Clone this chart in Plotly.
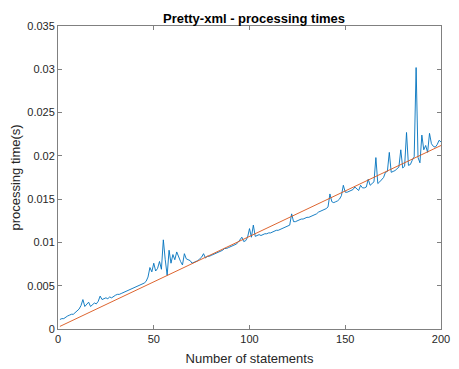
import plotly.graph_objects as go

statements = list(range(1, 201))
times = [
    0.0011, 0.0012, 0.0012, 0.0014, 0.0015, 0.0016, 0.0017, 0.0017, 0.0019, 0.0021,
    0.0023, 0.0027, 0.0034, 0.0026, 0.0028, 0.0031, 0.0026, 0.0028, 0.0030, 0.0029,
    0.0032, 0.0038, 0.0034, 0.0035, 0.0036, 0.0035, 0.0037, 0.0036, 0.0038, 0.0039,
    0.0040, 0.0040, 0.0041, 0.0042, 0.0043, 0.0044, 0.0045, 0.0046, 0.0047, 0.0048,
    0.0049, 0.0050, 0.0051, 0.0052, 0.0053, 0.0055, 0.0060, 0.0071, 0.0066, 0.0076,
    0.0067, 0.0070, 0.0078, 0.0069, 0.0103, 0.0080, 0.0062, 0.0091, 0.0076, 0.0086,
    0.0080, 0.0089, 0.0083, 0.0078, 0.0074, 0.0087, 0.0081, 0.0080, 0.0079, 0.0076,
    0.0077, 0.0078, 0.0079, 0.0081, 0.0083, 0.0087, 0.0082, 0.0084, 0.0084, 0.0085,
    0.0086, 0.0087, 0.0088, 0.0089, 0.0090, 0.0091, 0.0093, 0.0093, 0.0094, 0.0095,
    0.0096, 0.0097, 0.0098, 0.0100, 0.0103, 0.0106, 0.0101, 0.0102, 0.0106, 0.0116,
    0.0106, 0.0120, 0.0107, 0.0108, 0.0109, 0.0108, 0.0109, 0.0110, 0.0110, 0.0111,
    0.0111, 0.0112, 0.0113, 0.0114, 0.0114, 0.0115, 0.0116, 0.0117, 0.0118, 0.0119,
    0.0120, 0.0133, 0.0124, 0.0124, 0.0125, 0.0126, 0.0127, 0.0127, 0.0128, 0.0129,
    0.0129, 0.0130, 0.0131, 0.0132, 0.0133, 0.0135, 0.0136, 0.0137, 0.0138, 0.0139,
    0.0141, 0.0156, 0.0147, 0.0146, 0.0147, 0.0148, 0.0150, 0.0154, 0.0166, 0.0158,
    0.0158, 0.0159, 0.0160, 0.0161, 0.0164, 0.0162, 0.0160, 0.0166, 0.0163, 0.0163,
    0.0164, 0.0173, 0.0166, 0.0168, 0.0170, 0.0198, 0.0168, 0.0170, 0.0172, 0.0175,
    0.0181, 0.0182, 0.0204, 0.0181, 0.0182, 0.0183, 0.0185, 0.0187, 0.0207, 0.0186,
    0.0188, 0.0227, 0.0189, 0.0190, 0.0195, 0.0199, 0.0302, 0.0198, 0.0192, 0.0224,
    0.0207, 0.0212, 0.0204, 0.0226, 0.0214, 0.0211, 0.0210, 0.0213, 0.0218, 0.0216,
]
fit_x = [1, 200]
fit_y = [0.0003, 0.0212]

x_ticks = [0, 50, 100, 150, 200]
y_ticks = [0, 0.005, 0.01, 0.015, 0.02, 0.025, 0.03, 0.035]
y_tick_labels = ["0", "0.005", "0.01", "0.015", "0.02", "0.025", "0.03", "0.035"]

fig = go.Figure()
fig.add_trace(go.Scatter(x=statements, y=times, mode="lines",
                         line=dict(color="#0072BD", width=0.9), showlegend=False))
fig.add_trace(go.Scatter(x=fit_x, y=fit_y, mode="lines",
                         line=dict(color="#D95319", width=0.9), showlegend=False))

font_family = "Liberation Sans, Arial, sans-serif"
axis_common = dict(showgrid=False, zeroline=False, showline=True, mirror="ticks",
                   linecolor="#808080", linewidth=1, ticks="inside", ticklen=4,
                   tickcolor="#808080", tickwidth=1, automargin=False,
                   ticklabeloverflow="allow",
                   tickfont=dict(family=font_family, size=11, color="#262626"))

W, H = 451, 361
fig.update_layout(
    width=W, height=H, autosize=False,
    paper_bgcolor="white", plot_bgcolor="white",
    margin=dict(l=50, r=18, t=18, b=40),
    title=dict(text="<b>Pretty-xml - processing times</b>", x=246 / W,
               xanchor="center", xref="container", y=1 - 10 / H, yanchor="middle",
               font=dict(family=font_family, size=13, color="black")),
    xaxis=dict(range=[0, 200], tickvals=x_ticks,
               title=dict(text="Number of statements", standoff=9,
                          font=dict(family=font_family, size=13, color="#262626")),
               **axis_common),
    yaxis=dict(range=[0, 0.035], tickvals=y_ticks, ticktext=y_tick_labels,
               title=dict(text="processing time(s)", standoff=5,
                          font=dict(family=font_family, size=13, color="#262626")),
               **axis_common),
)

fig.write_html("out.html")
